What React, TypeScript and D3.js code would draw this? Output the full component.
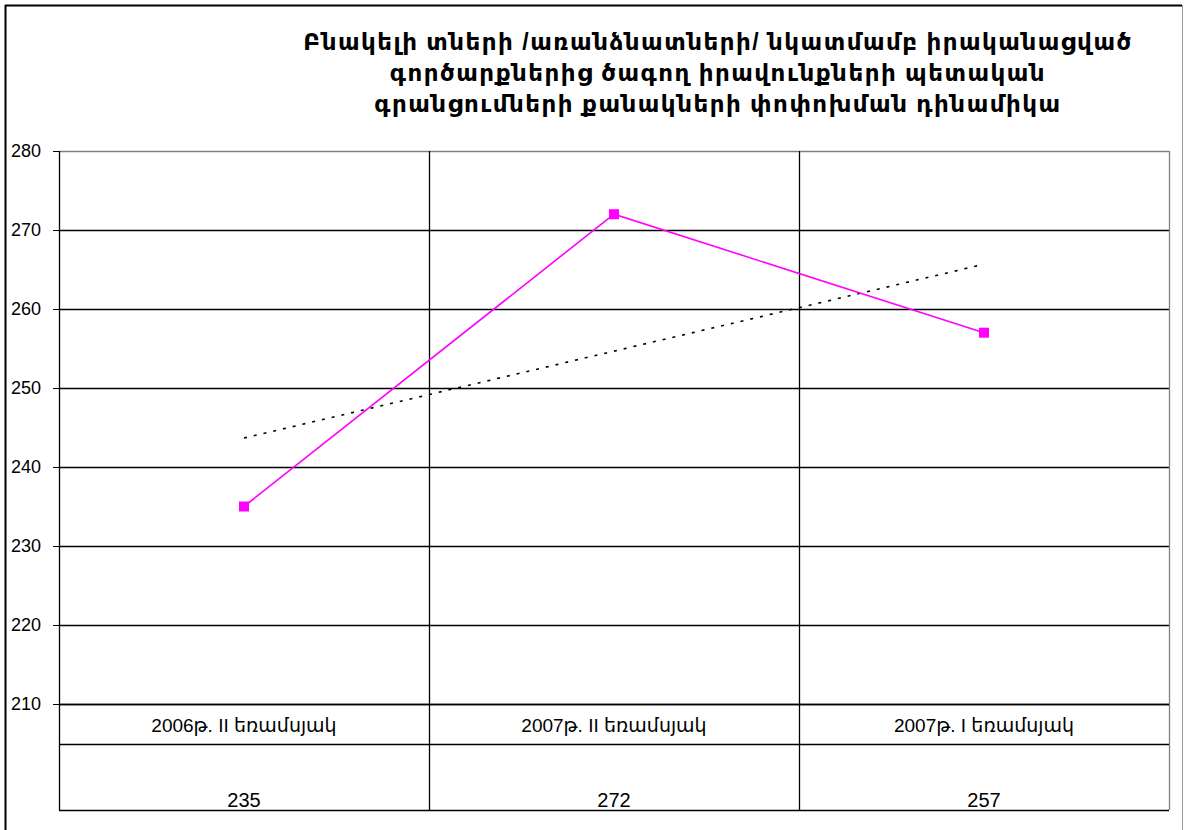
import React, { useEffect, useRef } from 'react';
import * as d3 from 'd3';

const titleLines = [
  'Բնակելի տների /առանձնատների/ նկատմամբ իրականացված',
  'գործարքներից ծագող իրավունքների պետական',
  'գրանցումների քանակների փոփոխման դինամիկա',
];
const categories = ['2006թ. II եռամսյակ', '2007թ. II եռամսյակ', '2007թ. I եռամսյակ'];
const values = [235, 272, 257];
const yTicks = [210, 220, 230, 240, 250, 260, 270, 280];

const FONT = '"Liberation Sans", Arial, "DejaVu Sans", sans-serif';

const App = () => {
  const svgRef = useRef<SVGSVGElement>(null);

  useEffect(() => {
    const svg = d3.select(svgRef.current);
    svg.selectAll('*').remove();

    const height = 830;
    const left = 59, right = 1169, top = 151, bottom = 704;
    const labelRowBottom = 744;
    const tableBottom = 810;

    // outer frame
    svg.append('line').attr('x1', 5).attr('x2', 1182).attr('y1', 5.5).attr('y2', 5.5)
      .attr('stroke', '#000').attr('stroke-width', 2);
    svg.append('line').attr('x1', 5.5).attr('x2', 5.5).attr('y1', 5).attr('y2', height)
      .attr('stroke', '#000').attr('stroke-width', 2);
    svg.append('line').attr('x1', 1182.5).attr('x2', 1182.5).attr('y1', 5).attr('y2', height)
      .attr('stroke', '#999').attr('stroke-width', 1);

    // title
    const title = svg.append('text')
      .attr('text-anchor', 'middle')
      .style('font-family', FONT)
      .style('font-size', '23px')
      .style('font-weight', 'bold')
      .style('letter-spacing', '1.5px');
    titleLines.forEach((line, i) => {
      title.append('tspan').attr('x', 718).attr('y', 50 + i * 31).text(line);
    });

    const x = d3.scaleBand().domain(categories).range([left, right]);
    const y = d3.scaleLinear().domain([210, 280]).range([bottom, top]);

    // grid lines
    svg.append('g').selectAll('line')
      .data(yTicks)
      .enter().append('line')
      .attr('x1', left).attr('x2', right)
      .attr('y1', d => Math.round(y(d)) + 0.5).attr('y2', d => Math.round(y(d)) + 0.5)
      .attr('stroke', d => (d === 280 ? '#808080' : '#000'))
      .attr('stroke-width', 1.3);

    // y ticks + labels
    const yAxis = svg.append('g');
    yAxis.selectAll('line')
      .data(yTicks)
      .enter().append('line')
      .attr('x1', left - 6).attr('x2', left)
      .attr('y1', d => Math.round(y(d)) + 0.5).attr('y2', d => Math.round(y(d)) + 0.5)
      .attr('stroke', '#000');
    yAxis.selectAll('text')
      .data(yTicks)
      .enter().append('text')
      .attr('x', 41)
      .attr('y', d => y(d) + 6)
      .attr('text-anchor', 'end')
      .style('font-family', FONT)
      .style('font-size', '18px')
      .text(d => d);

    // vertical category lines (plot + table)
    const bounds = [left, ...categories.map(c => (x(c) as number) + x.bandwidth())];
    svg.append('g').selectAll('line')
      .data(bounds)
      .enter().append('line')
      .attr('x1', d => Math.round(d) + 0.5).attr('x2', d => Math.round(d) + 0.5)
      .attr('y1', top).attr('y2', tableBottom)
      .attr('stroke', (d, i) => (i === bounds.length - 1 ? '#808080' : '#000'))
      .attr('stroke-width', 1.3);

    // table horizontals
    [bottom, labelRowBottom, tableBottom].forEach(yy => {
      svg.append('line')
        .attr('x1', left).attr('x2', right)
        .attr('y1', yy + 0.5).attr('y2', yy + 0.5)
        .attr('stroke', '#000').attr('stroke-width', 1.3);
    });

    // table text
    svg.append('g').selectAll('text')
      .data(categories)
      .enter().append('text')
      .attr('x', d => (x(d) as number) + x.bandwidth() / 2)
      .attr('y', 732)
      .attr('text-anchor', 'middle')
      .style('font-family', FONT)
      .style('font-size', '19px')
      .text(d => d);
    svg.append('g').selectAll('text')
      .data(values)
      .enter().append('text')
      .attr('x', (d, i) => (x(categories[i]) as number) + x.bandwidth() / 2)
      .attr('y', 807)
      .attr('text-anchor', 'middle')
      .style('font-family', FONT)
      .style('font-size', '20px')
      .text(d => d);

    const cx = (i: number) => (x(categories[i]) as number) + x.bandwidth() / 2;

    // linear trend line (least squares over the series)
    const idx = values.map((_, i) => i);
    const mx = d3.mean(idx) as number;
    const my = d3.mean(values) as number;
    const slope = d3.sum(idx, i => (i - mx) * (values[i] - my)) / d3.sum(idx, i => (i - mx) ** 2);
    const trend = idx.map(i => my + slope * (i - mx));

    svg.append('path')
      .datum(trend)
      .attr('d', d3.line<number>().x((d, i) => cx(i)).y(d => y(d)))
      .attr('fill', 'none')
      .attr('stroke', '#000')
      .attr('stroke-width', 1.6)
      .attr('stroke-dasharray', '3,7');

    // series line
    svg.append('path')
      .datum(values)
      .attr('d', d3.line<number>().x((d, i) => cx(i)).y(d => y(d)))
      .attr('fill', 'none')
      .attr('stroke', '#ff00ff')
      .attr('stroke-width', 1.6);

    svg.append('g').selectAll('rect')
      .data(values)
      .enter().append('rect')
      .attr('x', (d, i) => cx(i) - 5)
      .attr('y', d => y(d) - 5)
      .attr('width', 10)
      .attr('height', 10)
      .attr('fill', '#ff00ff');
  }, []);

  return (
    <svg
      ref={svgRef}
      width={1184}
      height={830}
      style={{ position: 'absolute', left: 0, top: 0, background: '#fff' }}
    />
  );
};

export default App;
